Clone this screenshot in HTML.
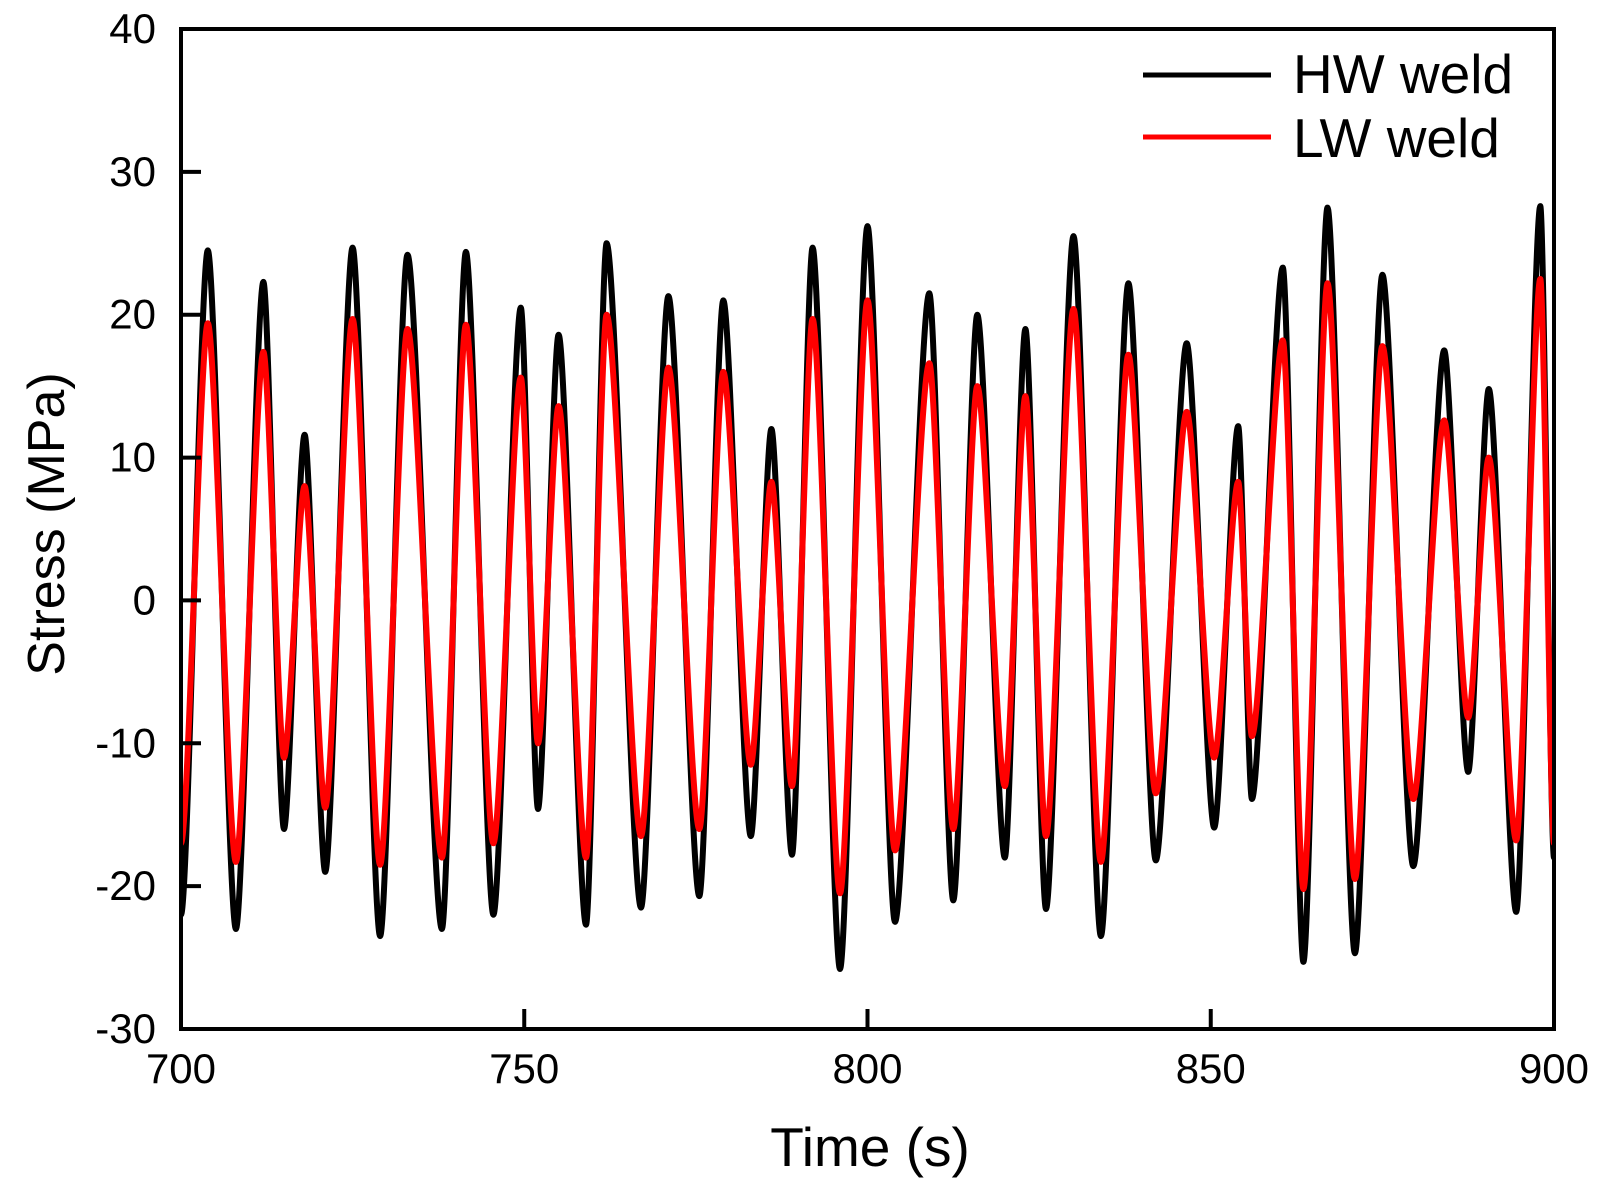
<!DOCTYPE html>
<html><head><meta charset="utf-8"><style>
html,body{margin:0;padding:0;background:#fff;}
svg{display:block;font-family:"Liberation Sans",Arial,sans-serif;}
</style></head><body>
<svg id="chart" width="1612" height="1190" viewBox="0 0 1612 1190" xmlns="http://www.w3.org/2000/svg">
<defs><clipPath id="plotclip"><rect x="181" y="29" width="1373" height="1000"/></clipPath></defs>
<g id="series" clip-path="url(#plotclip)"></g>
<g id="axes"></g>
<text x="870" y="1166" font-size="55" text-anchor="middle">Time (s)</text>
<text transform="translate(64,524) rotate(-90)" font-size="52" text-anchor="middle">Stress (MPa)</text>
<g>
<line x1="1143" y1="75" x2="1271" y2="75" stroke="#000" stroke-width="5"/>
<text x="1293" y="93" font-size="55">HW weld</text>
<line x1="1143" y1="137" x2="1271" y2="137" stroke="#f00" stroke-width="5"/>
<text x="1293" y="157" font-size="55">LW weld</text>
</g>
</svg>
<script>
const times = [700,703.9,708,712,715,718,721,725,729,733,738,741.5,745.5,749.5,752,755,759,762,767,771,775.5,779,783,786,789,792,796,800,804,809,812.5,816,820,823,826,830,834,838,842,846.5,850.5,854,856,860.5,863.5,867,871,875,879.5,884,887.5,890.5,894.5,898,900];
const hwStress = [-22,24.5,-23,22.3,-16,11.6,-19,24.7,-23.5,24.2,-23,24.4,-22,20.5,-14.6,18.6,-22.7,25,-21.5,21.3,-20.7,21,-16.5,12,-17.8,24.7,-25.8,26.2,-22.5,21.5,-21,20,-18,19,-21.6,25.5,-23.5,22.2,-18.2,18,-15.9,12.2,-13.9,23.3,-25.3,27.5,-24.7,22.8,-18.6,17.5,-12,14.8,-21.8,27.6,-18];
const lwStress = [-17,19.4,-18.3,17.4,-11,8,-14.5,19.7,-18.5,19,-18,19.3,-17,15.6,-10,13.6,-18,20,-16.5,16.3,-16,16,-11.5,8.3,-13,19.7,-20.5,21,-17.5,16.6,-16,15,-13,14.3,-16.5,20.4,-18.3,17.2,-13.5,13.2,-11,8.3,-9.5,18.2,-20.2,22.2,-19.5,17.8,-13.9,12.6,-8.2,10,-16.8,22.5,-17];
const xTicks = [700,750,800,850,900];
const yTicks = [-30,-20,-10,0,10,20,30,40];

const NS = "http://www.w3.org/2000/svg";
const L=181,R=1554,T=29,B=1029;
function xs(v){return L+(v-700)/(200)*(R-L);}
function ys(v){return B-(v+30)/70*(B-T);}
function mk(tag,attrs,parent){const e=document.createElementNS(NS,tag);for(const k in attrs)e.setAttribute(k,attrs[k]);parent.appendChild(e);return e;}

const series=document.getElementById('series');
function drawLine(vals,color,name){
  let d='M'+xs(times[0]).toFixed(1)+' '+ys(vals[0]).toFixed(1);
  for(let i=1;i<vals.length;i++){
    const x0=xs(times[i-1]),y0=ys(vals[i-1]),x1=xs(times[i]),y1=ys(vals[i]);
    const k=(x1-x0)*0.27;
    d+=' C'+(x0+k).toFixed(1)+' '+y0.toFixed(1)+' '+(x1-k).toFixed(1)+' '+y1.toFixed(1)+' '+x1.toFixed(1)+' '+y1.toFixed(1);
  }
  const p=mk('path',{d:d,fill:'none',stroke:color,'stroke-width':6,'stroke-linejoin':'round'},series);
  
  
}
drawLine(hwStress,'#000','hw-weld-line');
drawLine(lwStress,'#f00','lw-weld-line');

const axes=document.getElementById('axes');
const frame=mk('rect',{x:L,y:T,width:R-L,height:B-T,fill:'none',stroke:'#000','stroke-width':4},axes);


yTicks.forEach(v=>{
  const y=ys(v);
  if(v>-30&&v<40){
    const t=mk('line',{x1:L,y1:y,x2:L+20,y2:y,stroke:'#000','stroke-width':4},axes);
    
    
  }
  const lb=mk('text',{x:156,y:y+14,'font-size':42,'text-anchor':'end'},axes);
  lb.textContent=v;
  
  
});
xTicks.forEach(v=>{
  const x=xs(v);
  if(v>700&&v<900){
    const t=mk('line',{x1:x,y1:B,x2:x,y2:B-20,stroke:'#000','stroke-width':4},axes);
    
    
  }
  const lb=mk('text',{x:x,y:1083,'font-size':42,'text-anchor':'middle'},axes);
  lb.textContent=v;
  
  
});
</script>
</body></html>
